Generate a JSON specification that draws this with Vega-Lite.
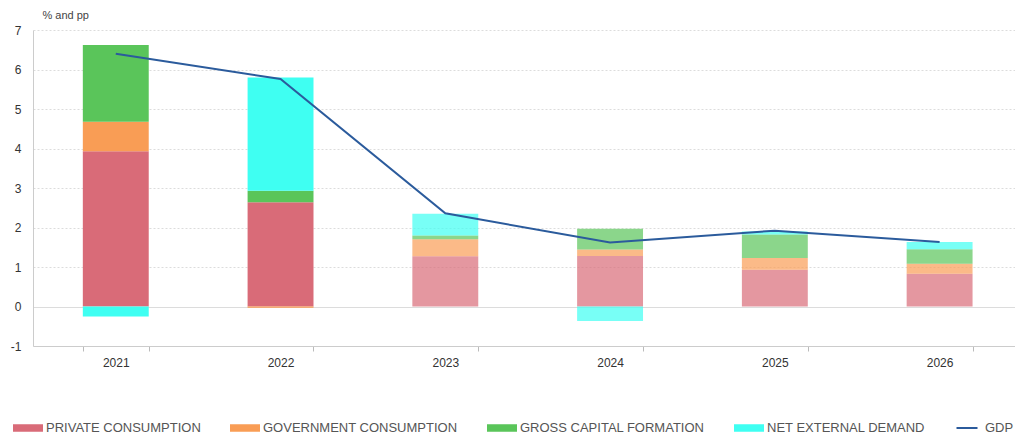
{
  "$schema": "https://vega.github.io/schema/vega-lite/v6.json",
  "width": 982,
  "height": 316,
  "autosize": {"type": "none"},
  "padding": {"left": 33, "top": 30, "right": 0, "bottom": 92},
  "background": "white",
  "config": {
    "view": {"stroke": null},
    "font": "Liberation Sans",
    "axis": {"labelFont": "Liberation Sans", "titleFont": "Liberation Sans"}
  },
  "datasets": {
    "contrib": [
      {"year": "2021", "component": "PRIVATE CONSUMPTION", "value": 3.93},
      {"year": "2021", "component": "GOVERNMENT CONSUMPTION", "value": 0.75},
      {"year": "2021", "component": "GROSS CAPITAL FORMATION", "value": 1.94},
      {"year": "2021", "component": "NET EXTERNAL DEMAND", "value": -0.25},
      {"year": "2022", "component": "PRIVATE CONSUMPTION", "value": 2.64},
      {"year": "2022", "component": "GOVERNMENT CONSUMPTION", "value": -0.03},
      {"year": "2022", "component": "GROSS CAPITAL FORMATION", "value": 0.29},
      {"year": "2022", "component": "NET EXTERNAL DEMAND", "value": 2.87},
      {"year": "2023", "component": "PRIVATE CONSUMPTION", "value": 1.27},
      {"year": "2023", "component": "GOVERNMENT CONSUMPTION", "value": 0.43},
      {"year": "2023", "component": "GROSS CAPITAL FORMATION", "value": 0.1},
      {"year": "2023", "component": "NET EXTERNAL DEMAND", "value": 0.55},
      {"year": "2024", "component": "PRIVATE CONSUMPTION", "value": 1.28},
      {"year": "2024", "component": "GOVERNMENT CONSUMPTION", "value": 0.16},
      {"year": "2024", "component": "GROSS CAPITAL FORMATION", "value": 0.53},
      {"year": "2024", "component": "NET EXTERNAL DEMAND", "value": -0.37},
      {"year": "2025", "component": "PRIVATE CONSUMPTION", "value": 0.93},
      {"year": "2025", "component": "GOVERNMENT CONSUMPTION", "value": 0.3},
      {"year": "2025", "component": "GROSS CAPITAL FORMATION", "value": 0.59},
      {"year": "2025", "component": "NET EXTERNAL DEMAND", "value": 0.08},
      {"year": "2026", "component": "PRIVATE CONSUMPTION", "value": 0.83},
      {"year": "2026", "component": "GOVERNMENT CONSUMPTION", "value": 0.25},
      {"year": "2026", "component": "GROSS CAPITAL FORMATION", "value": 0.37},
      {"year": "2026", "component": "NET EXTERNAL DEMAND", "value": 0.18}
    ],
    "gdp": [
      {"year": "2021", "component": "GDP", "value": 6.4},
      {"year": "2022", "component": "GDP", "value": 5.76},
      {"year": "2023", "component": "GDP", "value": 2.36},
      {"year": "2024", "component": "GDP", "value": 1.62},
      {"year": "2025", "component": "GDP", "value": 1.92},
      {"year": "2026", "component": "GDP", "value": 1.63}
    ]
  },
  "encoding": {
    "x": {
      "field": "year",
      "type": "nominal",
      "sort": null,
      "scale": {"paddingInner": 0.6, "paddingOuter": 0.28, "align": 0.54},
      "axis": {
        "title": null,
        "labelAngle": 0,
        "labelFontSize": 12,
        "labelColor": "#333",
        "labelPadding": 6,
        "tickBand": "extent",
        "tickColor": "#bbb",
        "tickSize": 5,
        "domainColor": "#ccc",
        "grid": false
      }
    }
  },
  "layer": [
    {
      "data": {"name": "contrib"},
      "transform": [
        {"calculate": "indexof(['PRIVATE CONSUMPTION','GOVERNMENT CONSUMPTION','GROSS CAPITAL FORMATION','NET EXTERNAL DEMAND'], datum.component)", "as": "stackOrder"}
      ],
      "mark": {"type": "bar"},
      "encoding": {
        "y": {
          "field": "value",
          "type": "quantitative",
          "stack": "zero",
          "title": "% and pp",
          "scale": {"domain": [-1, 7], "nice": false},
          "axis": {
            "title": "% and pp",
            "titleAngle": 0,
            "titleAlign": "left",
            "titleBaseline": "middle",
            "titleX": 9,
            "titleY": -15,
            "titleFontSize": 11,
            "titleFontWeight": "normal",
            "titleColor": "#444",
            "values": [-1, 0, 1, 2, 3, 4, 5, 6, 7],
            "labelExpr": "'' + datum.value",
            "labelOverlap": false,
            "labelFontSize": 12,
            "labelColor": "#333",
            "labelPadding": 12,
            "ticks": false,
            "domainColor": "#ccc",
            "gridColor": "#dcdcdc",
            "gridDash": {"condition": {"test": "datum.value === 0", "value": []}, "value": [2, 2]}
          }
        },
        "order": {"field": "stackOrder", "type": "quantitative", "sort": "ascending"},
        "color": {
          "field": "component",
          "type": "nominal",
          "sort": ["PRIVATE CONSUMPTION", "GOVERNMENT CONSUMPTION", "GROSS CAPITAL FORMATION", "NET EXTERNAL DEMAND", "GDP"],
          "scale": {
            "domain": ["PRIVATE CONSUMPTION", "GOVERNMENT CONSUMPTION", "GROSS CAPITAL FORMATION", "NET EXTERNAL DEMAND", "GDP"],
            "range": ["#d96b78", "#f99d55", "#5ac55a", "#3ffff2", "#2b5b9c"]
          },
          "legend": {
            "title": null,
            "orient": "none",
            "direction": "horizontal",
            "columns": 5,
            "legendX": -20,
            "legendY": 383,
            "labelFontSize": 13,
            "labelLimit": 400,
            "labelColor": "#555",
            "labelOffset": 3,
            "columnPadding": 26,
            "symbolSize": 784,
            "symbolOpacity": 1,
            "encode": {
              "symbols": {
                "update": {
                  "shape": {"signal": "datum.value === 'GDP' ? 'M-0.75,0H0.75' : 'M-1,-0.2H1V0.2H-1Z'"},
                  "fill": {"signal": "datum.value === 'GDP' ? 'transparent' : scale('color', datum.value)"},
                  "stroke": {"signal": "datum.value === 'GDP' ? scale('color', datum.value) : 'transparent'"},
                  "strokeWidth": {"value": 2},
                  "opacity": {"value": 1}
                }
              }
            }
          }
        },
        "opacity": {
          "condition": {"test": "toNumber(datum.year) >= 2023", "value": 0.7},
          "value": 1
        }
      }
    },
    {
      "data": {"name": "gdp"},
      "mark": {"type": "line", "strokeWidth": 2},
      "encoding": {
        "y": {
          "field": "value",
          "type": "quantitative",
          "title": "% and pp",
          "axis": {
            "title": "% and pp",
            "titleAngle": 0,
            "titleAlign": "left",
            "titleBaseline": "middle",
            "titleX": 9,
            "titleY": -15,
            "titleFontSize": 11,
            "titleFontWeight": "normal",
            "titleColor": "#444",
            "values": [-1, 0, 1, 2, 3, 4, 5, 6, 7],
            "labelExpr": "'' + datum.value",
            "labelOverlap": false,
            "labelFontSize": 12,
            "labelColor": "#333",
            "labelPadding": 12,
            "ticks": false,
            "domainColor": "#ccc",
            "gridColor": "#dcdcdc",
            "gridDash": {"condition": {"test": "datum.value === 0", "value": []}, "value": [2, 2]}
          }
        },
        "color": {"field": "component", "type": "nominal"}
      }
    }
  ]
}
